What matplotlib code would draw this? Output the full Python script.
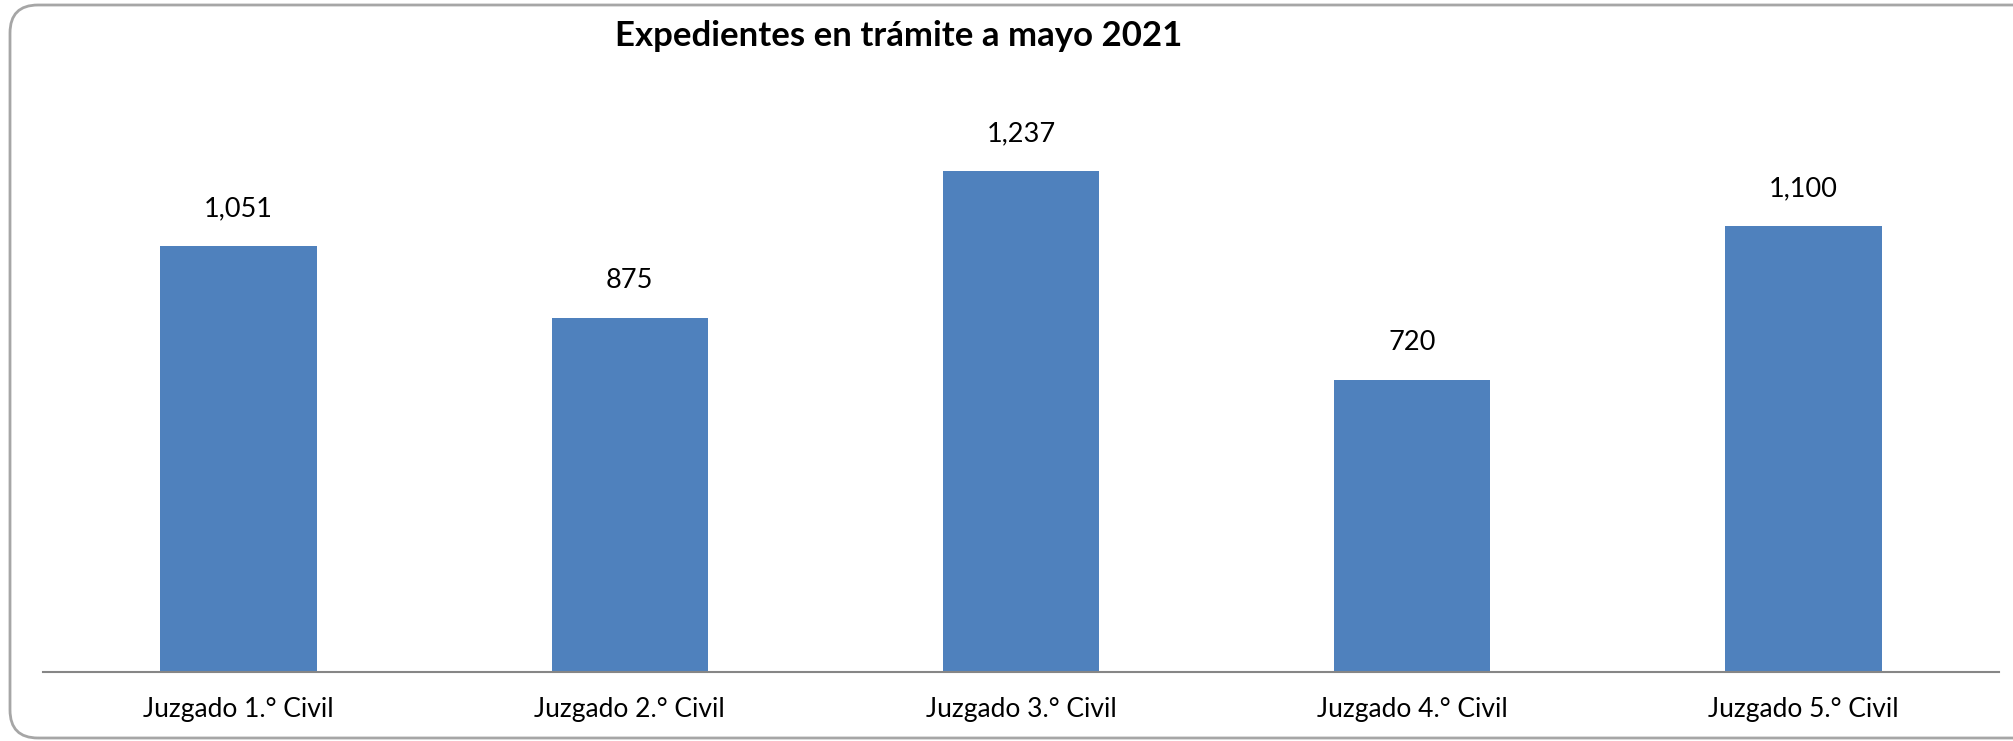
import matplotlib

matplotlib.use("Agg")
import matplotlib.pyplot as plt
from matplotlib.patches import FancyBboxPatch
from matplotlib.transforms import IdentityTransform

# Data
juzgados = ["Juzgado 1.° Civil", "Juzgado 2.° Civil", "Juzgado 3.° Civil",
            "Juzgado 4.° Civil", "Juzgado 5.° Civil"]
expedientes = [1051, 875, 1237, 720, 1100]

TITLE = "Expedientes en trámite a mayo 2021"
BAR_COLOR = "#4F81BD"

plt.rcParams["font.family"] = ["Lato", "DejaVu Sans"]

W, H = 2013, 741
fig = plt.figure(figsize=(W / 100, H / 100), dpi=100)

# rounded chart frame in pixel coords (runs off the right edge like the original)
frame = FancyBboxPatch((10, 3), 2040, 733,
                       boxstyle="round,pad=0,rounding_size=28",
                       transform=IdentityTransform(), fill=False,
                       edgecolor="#a6a6a6", linewidth=2.0)
fig.patches.append(frame)

ax = fig.add_axes([43 / W, 1 - 672 / H, (1999 - 43) / W, (672 - 105) / H])
x = range(len(juzgados))
bars = ax.bar(x, expedientes, width=0.4, color=BAR_COLOR)

ax.set_xlim(-0.5, len(juzgados) - 0.5)
ax.set_ylim(0, 1400)
ax.set_yticks([])
ax.set_xticks(list(x))
ax.set_xticklabels(juzgados, fontsize=19)
ax.tick_params(axis="x", length=0, pad=18)
for side in ("top", "left", "right"):
    ax.spines[side].set_visible(False)
ax.spines["bottom"].set_color("#868686")
ax.spines["bottom"].set_linewidth(1.5)

for b, v in zip(bars, expedientes):
    ax.annotate(f"{v:,}", (b.get_x() + b.get_width() / 2, v),
                xytext=(0, 18), textcoords="offset points",
                ha="center", va="bottom", fontsize=19.5)

fig.text(899 / W, 1 - 36 / H, TITLE, ha="center", va="center",
         fontsize=25, fontweight="bold")

fig.savefig("out.png", dpi=100)
